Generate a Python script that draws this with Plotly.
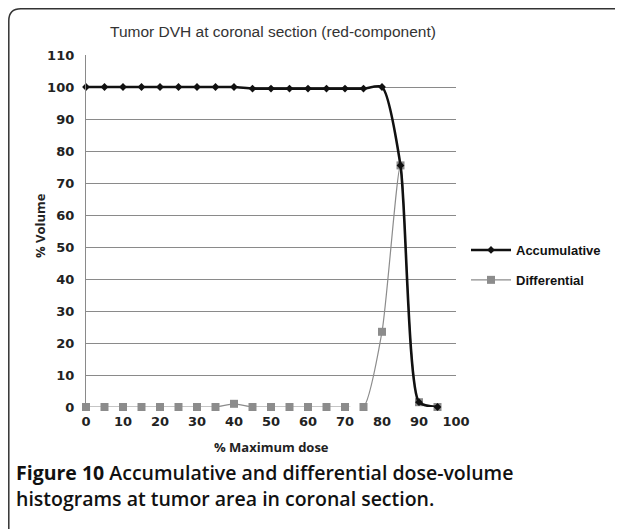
import plotly.graph_objects as go

dose = [0, 5, 10, 15, 20, 25, 30, 35, 40, 45, 50, 55, 60, 65, 70, 75, 80, 85, 90, 95]
accumulative = [100, 100, 100, 100, 100, 100, 100, 100, 100, 99.5, 99.5, 99.5, 99.5, 99.5, 99.5, 99.5, 100, 75.5, 1.5, 0]
differential = [0, 0, 0, 0, 0, 0, 0, 0, 1, 0, 0, 0, 0, 0, 0, 0, 23.5, 75.5, 1.5, 0]
y_ticks = list(range(0, 111, 10))
x_ticks = list(range(0, 101, 10))

# the page body adds an 8px margin, so work in page pixels and shift back
OFF = 8
W, H = 623 - OFF, 529 - OFF
L, R, T, B = 86 - OFF, 456 - OFF, 55 - OFF, 407 - OFF


def px(x):
    return (x - OFF - L) / (R - L)


def py(y):
    return (B - (y - OFF)) / (B - T)


fig = go.Figure()

fig.add_trace(go.Scatter(
    x=dose, y=differential, name="Differential",
    legendgroup="diff", legendrank=2,
    mode="lines+markers",
    line=dict(color="#8c8c8c", width=1.2, shape="spline", smoothing=0.6),
    marker=dict(symbol="square", size=8, color="#8c8c8c"),
    cliponaxis=False,
))
fig.add_trace(go.Scatter(
    x=dose, y=accumulative, name="Accumulative",
    legendgroup="acc", legendrank=1,
    mode="lines+markers",
    line=dict(color="#111111", width=2.6, shape="spline", smoothing=0.6),
    marker=dict(symbol="diamond", size=6, color="#111111"),
    cliponaxis=False,
))

tick_font = dict(family="DejaVu Sans", size=13, color="#222222", weight="bold")

fig.update_layout(
    width=W, height=H,
    margin=dict(l=L, r=W - R, t=T, b=H - B, pad=0),
    paper_bgcolor="white", plot_bgcolor="white",
    showlegend=True,
    legend=dict(
        x=px(466), y=py(235), xanchor="left", yanchor="top",
        traceorder="grouped", tracegroupgap=10, itemwidth=40,
        font=dict(family="Liberation Sans", size=13, color="#111111", weight="bold"),
        bgcolor="rgba(0,0,0,0)",
    ),
    xaxis=dict(
        range=[0, 100], tickvals=x_ticks, showgrid=False, zeroline=False,
        showline=False, tickfont=tick_font, ticks="", ticklabelstandoff=5,
    ),
    yaxis=dict(
        range=[0, 110], tickvals=y_ticks, showgrid=True, gridcolor="#8a8a8a",
        gridwidth=1.3, zeroline=False, showline=True, linecolor="#8a8a8a",
        linewidth=1.3, tickfont=tick_font, ticks="", ticklabelstandoff=8,
    ),
)


def label(text, x, y, font, xanchor="center", angle=0):
    fig.add_annotation(
        text=text, x=px(x), y=py(y), xanchor=xanchor, yanchor="middle",
        xref="paper", yref="paper", showarrow=False, textangle=angle, font=font,
    )


label("Tumor DVH at coronal section (red-component)", 273, 31,
      dict(family="Liberation Sans", size=15.5, color="#333333"))
label("% Volume", 40, 226,
      dict(family="Open Sans", size=13, color="#222222", weight="bold"), angle=-90)
label("% Maximum dose", 271, 447,
      dict(family="Open Sans", size=13, color="#222222", weight="bold"))
caption_font = dict(family="Open Sans", size=19.5, color="#111111", weight=600)
label("<b>Figure 10</b> Accumulative and differential dose-volume", 14, 472,
      caption_font, xanchor="left")
label("histograms at tumor area in coronal section.", 14, 499,
      caption_font, xanchor="left")

# rounded frame around the whole figure (top-left corner visible)
fx0, fy0, fx1, fy1, rad = 8.8, 8.8, 660, 580, 12
path = (
    f"M {px(fx0)},{py(fy1)} L {px(fx0)},{py(fy0 + rad)} "
    f"Q {px(fx0)},{py(fy0)} {px(fx0 + rad)},{py(fy0)} "
    f"L {px(fx1)},{py(fy0)}"
)
fig.add_shape(
    type="path", xref="paper", yref="paper", path=path,
    line=dict(color="#333333", width=1.5), layer="below",
)

fig.write_html("out.html")
